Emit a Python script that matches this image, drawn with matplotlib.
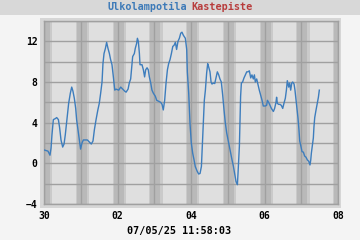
import matplotlib
matplotlib.use("Agg")
import matplotlib.pyplot as plt
from matplotlib.patches import Rectangle

# Data: hours since 30.4. 00:00 and outdoor temperature (°C)
hours = [0.4, 2.6, 3.9, 4.6, 5.2, 6.1, 7.4, 8.3, 9.4, 10.2, 11.1, 12.2, 13.1, 13.9,
         15.2, 16.1, 17.2, 18.1, 18.9, 19.8, 20.7, 21.3, 22.2, 23.1, 23.9, 24.8,
         25.7, 27.0, 28.3, 29.6, 30.9, 32.0, 32.9, 34.0, 35.1, 36.1, 37.0, 37.9,
         38.5, 39.2, 40.1, 40.9, 41.8, 42.7, 43.5, 44.4, 45.3, 46.2, 47.0, 48.8,
         50.1, 51.4, 52.7, 53.6, 54.9, 55.7, 56.6, 57.3, 57.9, 59.0, 59.6, 60.5,
         61.0, 61.6, 62.3, 62.7, 64.0, 64.9, 65.7, 66.4, 67.3, 68.1, 68.8, 69.7,
         70.5, 71.4, 72.7, 73.6, 74.9, 76.2, 77.1, 77.9, 78.8, 79.7, 80.6, 81.4,
         82.3, 83.2, 84.1, 84.9, 85.8, 86.6, 87.5, 88.4, 89.3, 90.1, 91.0, 92.3,
         93.2, 93.6, 94.5, 95.4, 96.2, 97.1, 98.0, 98.8, 100.1, 101.0, 101.9,
         102.8, 103.6, 104.1, 104.7, 105.4, 106.2, 106.9, 107.5, 108.4, 109.1,
         109.7, 110.6, 111.5, 112.3, 113.2, 114.1, 114.9, 115.8, 116.7, 117.6,
         118.4, 119.3, 120.2, 121.0, 121.9, 122.8, 123.7, 124.5, 125.4, 126.3,
         126.7, 127.1, 127.6, 128.0, 128.4, 128.9, 129.7, 130.6, 131.5, 132.4,
         133.2, 134.1, 135.0, 135.8, 136.7, 137.4, 138.0, 138.9, 139.8, 140.6,
         141.5, 142.4, 143.2, 144.5, 145.4, 145.9, 146.7, 147.6, 148.5, 149.8,
         150.6, 151.5, 151.9, 152.4, 153.2, 154.1, 155.0, 155.9, 156.7, 157.6,
         158.3, 158.9, 159.8, 160.4, 161.1, 161.8, 162.4, 163.3, 163.9, 164.6,
         165.2, 165.9, 166.5, 167.0, 167.6, 168.5, 169.4, 170.2, 171.1, 172.0,
         172.9, 173.7, 174.2, 174.6, 175.2, 175.9, 176.3, 176.8, 177.6, 178.5,
         179.2, 179.8]
temps = [1.3, 1.2, 0.8, 1.5, 2.8, 4.3, 4.4, 4.5, 4.3, 3.5, 2.3, 1.6, 1.9, 2.8,
         4.6, 5.9, 6.9, 7.5, 7.1, 6.4, 5.4, 4.3, 3.3, 2.3, 1.4, 2.0,
         2.3, 2.3, 2.3, 2.1, 1.9, 2.2, 3.3, 4.3, 5.2, 5.9, 6.9, 8.0,
         9.8, 10.8, 11.3, 11.9, 11.3, 10.8, 10.2, 9.7, 8.5, 7.2, 7.3, 7.2,
         7.5, 7.3, 7.1, 7.0, 7.3, 7.9, 8.3, 9.5, 10.5, 10.8, 11.3, 11.8,
         12.3, 12.0, 10.8, 9.7, 9.7, 9.2, 8.5, 9.2, 9.4, 9.2, 8.5, 7.9,
         7.2, 6.9, 6.6, 6.2, 6.1, 6.0, 5.8, 5.25, 6.2, 7.9, 9.2, 9.8,
         10.2, 10.8, 11.5, 11.6, 11.9, 11.2, 12.0, 12.3, 12.8, 12.9, 12.6, 12.3,
         11.2, 9.0, 6.9, 3.8, 2.0, 1.0, 0.33, -0.33, -0.8, -1.05, -1.0,
         -0.3, 2.5, 4.3, 6.2, 7.2, 8.85, 9.8, 9.5, 9.0, 8.0,
         7.8, 7.9, 7.85, 8.4, 9.0, 8.7, 8.3, 8.0, 6.7, 5.2,
         4.0, 3.0, 2.3, 1.7, 1.0, 0.33, -0.3, -1.0, -1.8, -2.1,
         -1.0, 0.3, 1.7, 4.3, 6.6, 7.9, 8.0, 8.4, 8.7, 9.0,
         9.0, 9.1, 8.4, 8.7, 8.3, 8.7, 8.0, 8.3, 7.7, 7.2,
         6.7, 6.2, 5.64, 5.64, 5.7, 6.2, 6.0, 5.7, 5.4, 5.1,
         5.4, 6.0, 6.5, 5.9, 5.8, 5.8, 5.7, 5.4, 5.9, 6.4,
         7.2, 8.13, 7.5, 7.9, 7.2, 7.9, 8.0, 7.8, 7.2, 6.2,
         5.4, 4.4, 3.3, 2.2, 1.8, 1.15, 1.1, 0.72, 0.6, 0.33,
         0.2, -0.16, 0.33, 1.0, 1.7, 2.5, 3.6, 4.5, 5.2, 5.9,
         6.5, 7.2]

x_tick_pos = [0, 48, 96, 144, 192]
x_tick_labels = ['30', '02', '04', '06', '08']
y_ticks = [-4, 0, 4, 8, 12]
y_tick_labels = ['\u22124', '0', '4', '8', '12']
title_parts = ['Ulkolampotila', 'Kastepiste']
timestamp = '07/05/25 11:58:03'

W, H = 360, 240
fig = plt.figure(figsize=(W / 100, H / 100), dpi=100)
fig.patch.set_facecolor('#f4f4f4')

# title band and frame
fig.patches.append(Rectangle((0, 1 - 15 / H), 1, 15 / H, transform=fig.transFigure,
                             facecolor='#d8d8d8', edgecolor='none', zorder=-2))
fig.patches.append(Rectangle((40 / W, 1 - 208 / H), 301 / W, 190 / H, transform=fig.transFigure,
                             facecolor='#d6d6d6', edgecolor='none', zorder=-2))

ax = fig.add_axes([44 / W, 1 - 204 / H, 294 / W, 183 / H])
ax.set_zorder(1)
ax.set_facecolor('#dfdfdf')
ax.set_xlim(0, 192)
ax.set_ylim(-4, 14)

# night shading
for d in range(9):
    c = 24 * d
    ax.axvspan(c - 3.2, c - 2.5, color='#cacaca', lw=0, zorder=0.5)
    ax.axvspan(c - 2.5, c + 4.0, color='#b9b9b9', lw=0, zorder=0.5)
    ax.axvspan(c + 4.0, c + 5.5, color='#cacaca', lw=0, zorder=0.5)

ax.set_xticks(x_tick_pos)
ax.set_xticklabels(x_tick_labels)
ax.set_xticks(range(0, 193, 24), minor=True)
ax.set_yticks(y_ticks)
ax.set_yticklabels(y_tick_labels)
ax.set_yticks(range(-4, 15, 2), minor=True)
ax.grid(True, which='both', color='#a0a0a0', lw=1.0, zorder=1)
ax.set_axisbelow(True)
ax.tick_params(which='both', length=0)
ax.tick_params(axis='y', pad=4.5)
ax.tick_params(axis='x', pad=5)
for lab in ax.get_xticklabels() + ax.get_yticklabels():
    lab.set_fontfamily('DejaVu Sans Mono')
    lab.set_fontweight('bold')
    lab.set_fontsize(7)
for s in ax.spines.values():
    s.set_color('#a0a0a0')
    s.set_linewidth(1.0)

ax.plot(hours, temps, color='#3d7dbd', lw=1.0, zorder=3)

fig.text(107.7 / W, 1 - 7 / H, title_parts[0], color='#3d7ab8', ha='left', va='center',
         family='DejaVu Sans Mono', weight='bold', fontsize=7.3)
fig.text(191.7 / W, 1 - 7 / H, title_parts[1], color='#b83c3c', ha='left', va='center',
         family='DejaVu Sans Mono', weight='bold', fontsize=7.3)
fig.text(179 / W, 1 - 231 / H, timestamp, color='black', ha='center', va='center',
         family='DejaVu Sans Mono', weight='bold', fontsize=7.3)

fig.savefig('out.png', dpi=100, facecolor=fig.get_facecolor())
